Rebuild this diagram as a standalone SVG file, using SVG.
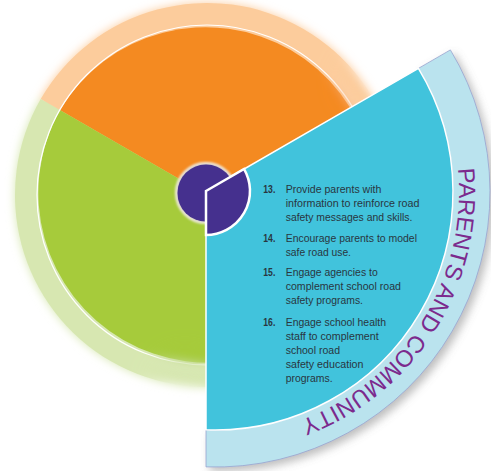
<svg xmlns="http://www.w3.org/2000/svg" width="491" height="471" viewBox="0 0 491 471">
<style>
.body{font-family:"Liberation Sans",Arial,sans-serif;font-size:11.5px;fill:#29363f}
.num{font-weight:bold}
.arc{font-family:"Liberation Sans",Arial,sans-serif;font-size:23.5px;fill:#7c2a8d;letter-spacing:0.2px}
</style>
<defs>
<filter id="soft" x="-10%" y="-10%" width="120%" height="120%"><feGaussianBlur stdDeviation="5"/></filter>
<filter id="mblur" x="-50%" y="-50%" width="200%" height="200%"><feGaussianBlur stdDeviation="14"/></filter>
<filter id="shadow" x="-10%" y="-10%" width="130%" height="130%">
<feGaussianBlur in="SourceAlpha" stdDeviation="4"/>
<feOffset dx="4" dy="4" result="b"/>
<feFlood flood-color="#6f6f6f" flood-opacity="0.45"/>
<feComposite in2="b" operator="in"/>
<feMerge><feMergeNode/><feMergeNode in="SourceGraphic"/></feMerge>
</filter>
<filter id="glow" x="-30%" y="-30%" width="160%" height="160%"><feGaussianBlur stdDeviation="0.8"/></filter>
<mask id="crisp" maskUnits="userSpaceOnUse" x="0" y="0" width="491" height="471">
<rect width="491" height="471" fill="#fff"/>
<g filter="url(#mblur)"><circle cx="372" cy="82" r="30" fill="#000"/><circle cx="185" cy="388" r="32" fill="#000"/></g>
</mask>
<g id="pieShape">
<path d="M207 195 L40.7 99 A192 192 0 0 1 373.3 291 Z" fill="#fccc9c"/>
<path d="M207 195 L373.3 291 A192 192 0 0 1 40.7 99 Z" fill="#d7e7b1"/>
<path d="M207 195 L59.8 110 A170 170 0 0 1 354.2 280 Z" fill="#f48a21"/>
<path d="M207 195 L354.2 280 A170 170 0 0 1 59.8 110 Z" fill="#a6cb3b"/>
<circle cx="207" cy="195" r="170" fill="none" stroke="#fff" stroke-width="1.2"/>
</g>
<path id="arcText" d="M457.9 168.6 A244 244 0 0 1 257.4 432.3" fill="none"/>
</defs>

<g id="pie">
<use href="#pieShape" filter="url(#soft)"/>
<use href="#pieShape" mask="url(#crisp)"/>
</g>

<g id="connectors"/>

<g id="parents-community">
<path id="band" d="M418.4 68.4 L450.4 49.9 A275 275 0 0 1 206 466.9 L206 429.8 A238 238 0 0 0 418.4 68.4 Z" fill="#bae3ee" stroke="#98a3cf" stroke-width="0.8" filter="url(#shadow)"/>
<path id="sector" d="M206 191 L418.4 68.4 A238 238 0 0 1 206 429.8 Z" fill="#41c3dc" stroke="#fff" stroke-width="1.5" stroke-linejoin="miter"/>
<text class="arc"><textPath href="#arcText">PARENTS AND COMMUNITY</textPath></text>
<g class="body">
<text class="num" x="263.3" y="192.5" textLength="12" lengthAdjust="spacingAndGlyphs">13.</text>
<text x="285.7" y="192.5" textLength="95.7" lengthAdjust="spacingAndGlyphs">Provide parents with</text>
<text x="285.7" y="206.5" textLength="133.7" lengthAdjust="spacingAndGlyphs">information to reinforce road</text>
<text x="285.7" y="220.5" textLength="126.7" lengthAdjust="spacingAndGlyphs">safety messages and skills.</text>
<text class="num" x="263.3" y="241.5" textLength="12" lengthAdjust="spacingAndGlyphs">14.</text>
<text x="285.7" y="241.5" textLength="131.3" lengthAdjust="spacingAndGlyphs">Encourage parents to model</text>
<text x="285.7" y="255.5" textLength="65.3" lengthAdjust="spacingAndGlyphs">safe road use.</text>
<text class="num" x="263.3" y="276" textLength="12" lengthAdjust="spacingAndGlyphs">15.</text>
<text x="285.7" y="276" textLength="92" lengthAdjust="spacingAndGlyphs">Engage agencies to</text>
<text x="285.7" y="290" textLength="115.3" lengthAdjust="spacingAndGlyphs">complement school road</text>
<text x="285.7" y="304" textLength="77.3" lengthAdjust="spacingAndGlyphs">safety programs.</text>
<text class="num" x="263.3" y="325.5" textLength="12" lengthAdjust="spacingAndGlyphs">16.</text>
<text x="285.7" y="325.5" textLength="100.3" lengthAdjust="spacingAndGlyphs">Engage school health</text>
<text x="285.7" y="339.5" textLength="93" lengthAdjust="spacingAndGlyphs">staff to complement</text>
<text x="285.7" y="353.5" textLength="54.3" lengthAdjust="spacingAndGlyphs">school road</text>
<text x="285.7" y="367.5" textLength="77.7" lengthAdjust="spacingAndGlyphs">safety education</text>
<text x="285.7" y="381.5" textLength="47" lengthAdjust="spacingAndGlyphs">programs.</text>
</g>
</g>

<g id="hub">
<circle cx="206" cy="193" r="29.5" fill="#45308e" stroke="#f1ebde" stroke-width="3" filter="url(#glow)"/>
<circle cx="206" cy="193" r="28.5" fill="#45308e"/>
<path d="M206 191 L244.1 169 A44 44 0 0 1 206 235 Z" fill="#45308e" stroke="#fff" stroke-width="2.5" stroke-linejoin="miter"/>
</g>
</svg>
